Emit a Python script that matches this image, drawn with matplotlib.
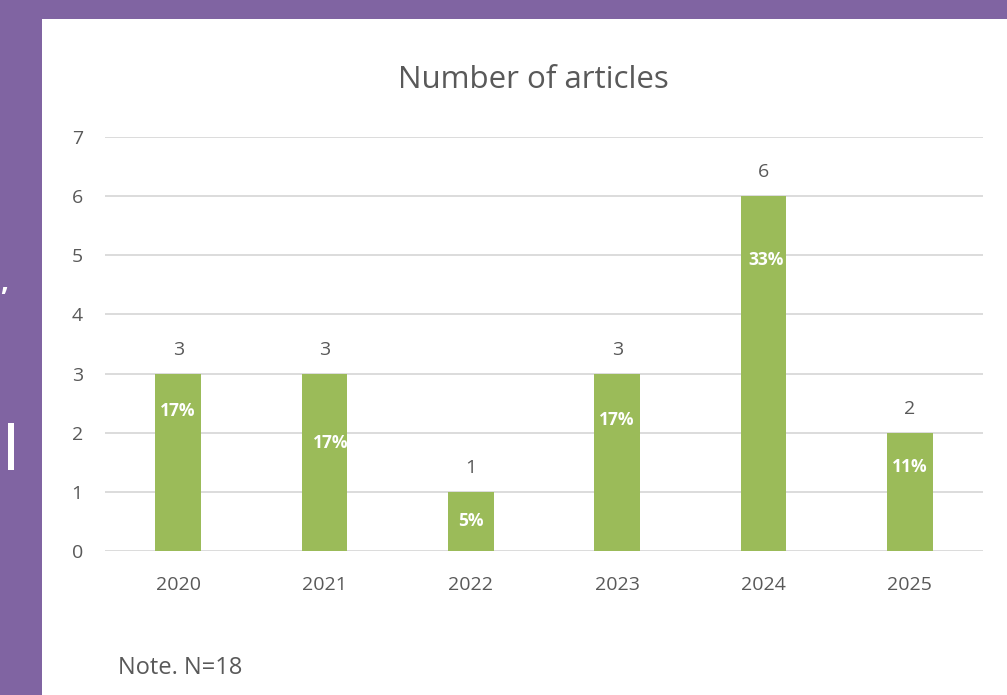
import matplotlib.pyplot as plt
from matplotlib.patches import Rectangle

years = ["2020", "2021", "2022", "2023", "2024", "2025"]
counts = [3, 3, 1, 3, 6, 2]
shares = ["17%", "17%", "5%", "17%", "33%", "11%"]
# where Excel put the percent labels, as a fraction of each bar
share_pos = [0.79, 0.61, 0.51, 0.74, 0.82, 0.71]
share_dx = [0.0, 0.04, 0.0, 0.0, 0.02, 0.0]

purple = "#8064A2"
green = "#9BBB59"
grey = "#595959"

plt.rcParams['font.family'] = ['Open Sans', 'DejaVu Sans']

fig = plt.figure(figsize=(10.07, 6.95), dpi=100)
fig.patch.set_facecolor(purple)
fig.patches.append(Rectangle((42 / 1007, 0), 1, 676 / 695, transform=fig.transFigure,
                             facecolor="white", edgecolor="none", zorder=-2))
# bits of slide text peeking in on the left
fig.patches.append(Rectangle((8 / 1007, 225 / 695), 6 / 1007, 47 / 695, transform=fig.transFigure,
                             facecolor="white", edgecolor="none", zorder=-2))
fig.text(0.0, 412 / 695, ",", color="white", fontsize=20, fontweight="bold", ha="left", va="center")

ax = fig.add_axes([105 / 1007, 144 / 695, 878 / 1007, 414 / 695])
ax.set_facecolor("none")
x = list(range(len(years)))
ax.bar(x, counts, width=0.31, color=green, zorder=3)

for i, c in enumerate(counts):
    ax.text(i, c + 0.4, str(c), ha="center", va="center", fontsize=14, color=grey)
    ax.text(i + share_dx[i], c * share_pos[i], shares[i], ha="center", va="center",
            fontsize=12.5, color="white", fontweight="bold", zorder=4)

ax.set_xlim(-0.5, 5.5)
ax.set_ylim(0, 7)
ax.set_yticks(range(8))
ax.set_xticks(x)
ax.set_xticklabels(years)
ax.yaxis.grid(True, color="#D9D9D9", linewidth=1.3, zorder=0)
for s in ax.spines.values():
    s.set_visible(False)
ax.tick_params(axis="both", length=0, labelsize=14, colors=grey)
ax.tick_params(axis="y", pad=16)
ax.tick_params(axis="x", pad=18)

fig.text(533 / 1007, 1 - 80 / 695, "Number of articles", ha="center", va="center",
         fontsize=22.5, color=grey)
fig.text(118 / 1007, 1 - 668 / 695, "Note. N=18", ha="left", va="center",
         fontsize=17, color=grey)

fig.savefig("out.png", dpi=100, facecolor=fig.get_facecolor())
